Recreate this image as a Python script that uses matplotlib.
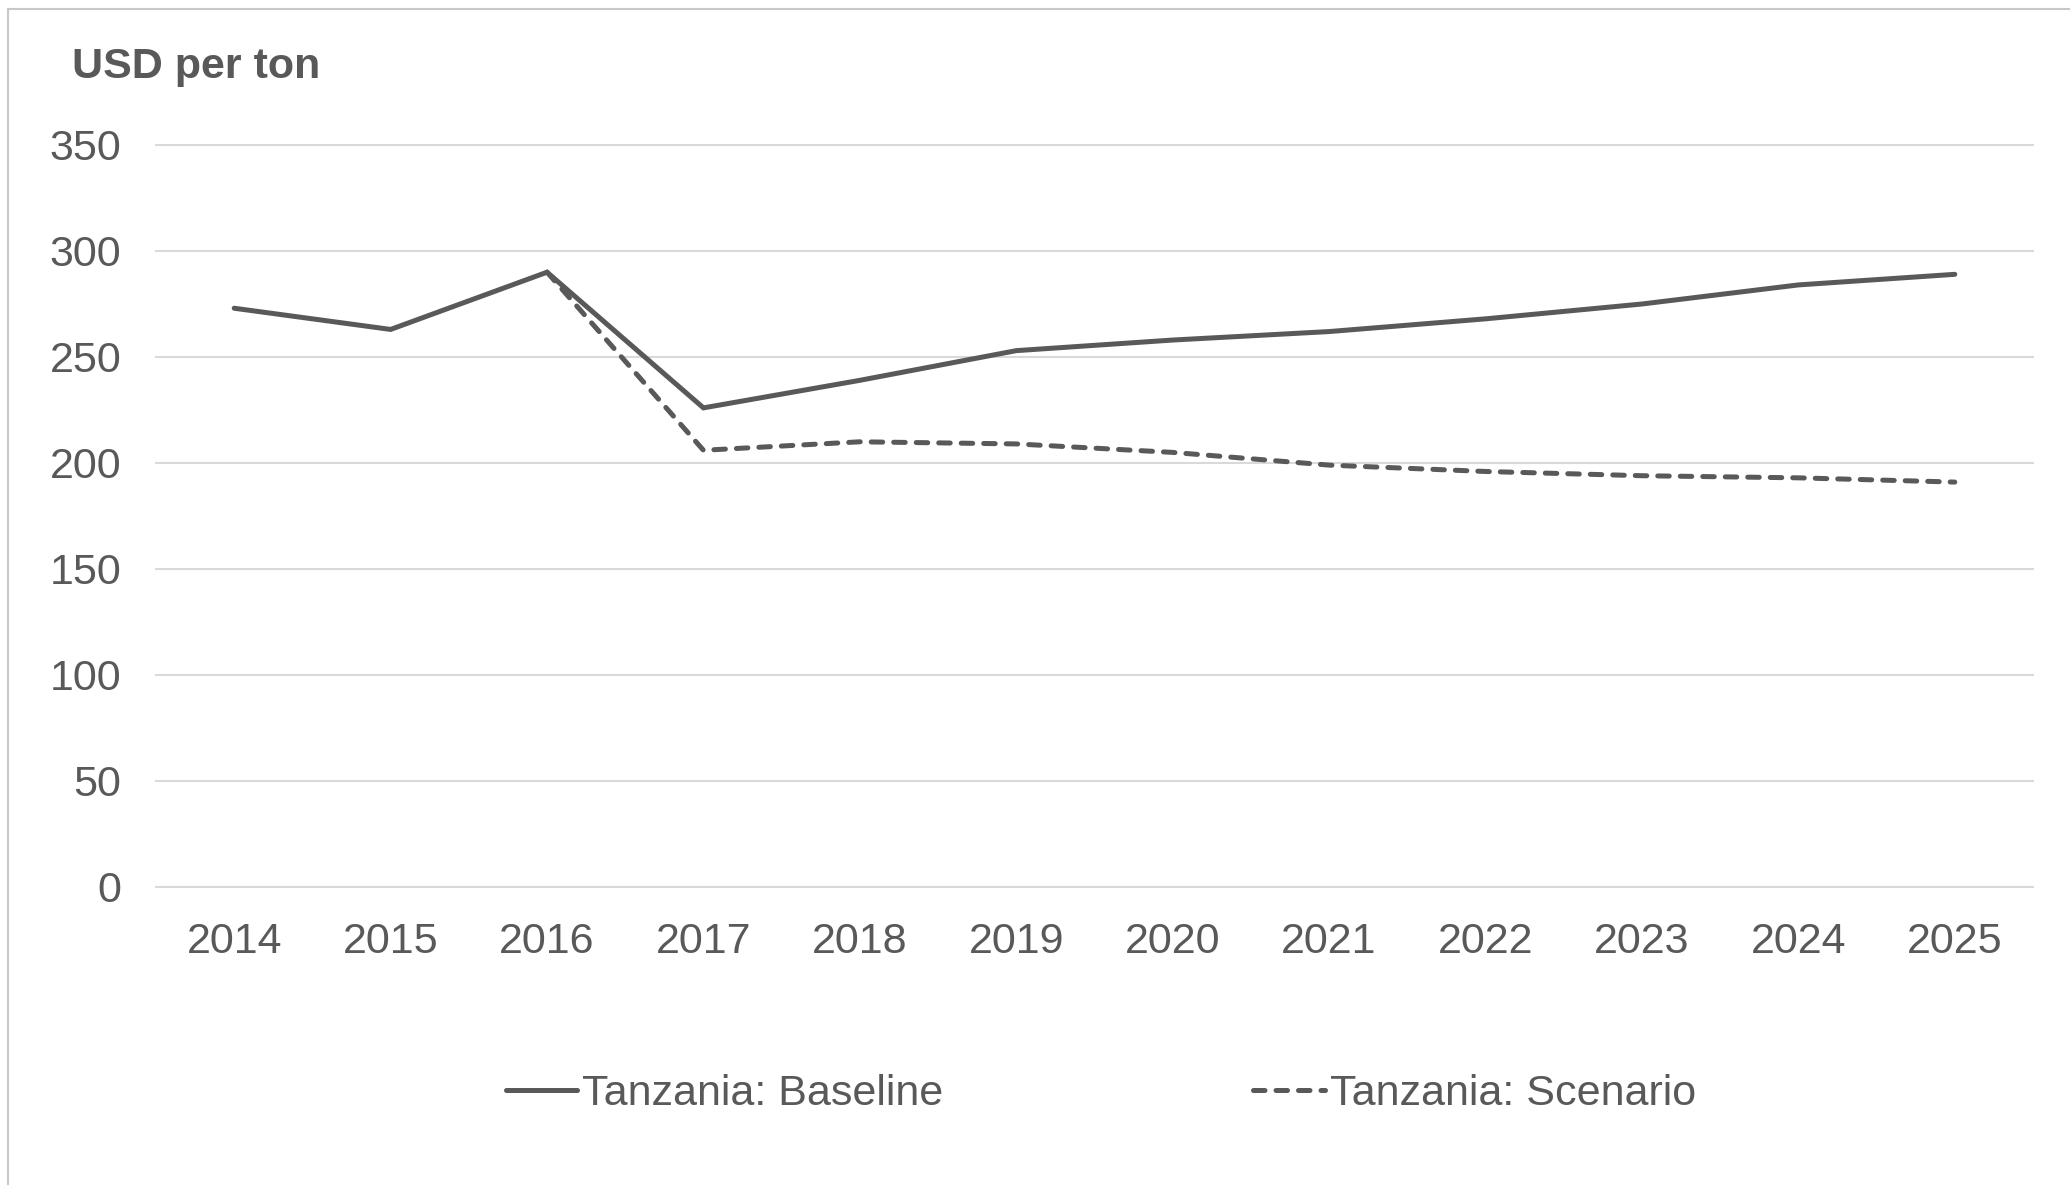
import numpy as np
import matplotlib
matplotlib.use("Agg")
import matplotlib.pyplot as plt
from matplotlib.lines import Line2D

plt.rcParams['font.family'] = ['Liberation Sans', 'DejaVu Sans']

years = ["2014", "2015", "2016", "2017", "2018", "2019",
         "2020", "2021", "2022", "2023", "2024", "2025"]
baseline = [273, 263, 290, 226, 239, 253, 258, 262, 268, 275, 284, 289]
scenario = [np.nan, np.nan, 290, 206, 210, 209, 205, 199, 196, 194, 193, 191]
yticks = [0, 50, 100, 150, 200, 250, 300, 350]

text_col = '#595959'
line_col = '#595959'
grid_col = '#d9d9d9'
fs = 31

fig = plt.figure(figsize=(20.7, 11.85), dpi=100)
ax = fig.add_axes([156 / 2070, 1 - 887 / 1185, (2033 - 156) / 2070, (887 - 145) / 1185])

x = np.arange(len(years))
ax.plot(x, baseline, color=line_col, lw=3.6, solid_capstyle='round',
        solid_joinstyle='miter', label='Tanzania: Baseline')
ax.plot(x, scenario, color=line_col, lw=3.6, dashes=(2.3, 2.2),
        dash_capstyle='round', label='Tanzania: Scenario')

ax.set_xlim(-0.5, len(years) - 0.5)
ax.set_ylim(0, 350)
ax.set_xticks(x)
ax.set_xticklabels(years)
ax.set_yticks(yticks)
ax.tick_params(axis='both', length=0, labelsize=fs, labelcolor=text_col)
ax.tick_params(axis='y', pad=25)
ax.tick_params(axis='x', pad=25)
for s in ax.spines.values():
    s.set_visible(False)
ax.yaxis.grid(True, color=grid_col, lw=1.5)
for gl in ax.get_ygridlines():
    gl.set_clip_on(False)
ax.set_axisbelow(True)

fig.text(72 / 2070, 1 - 67 / 1185, 'USD per ton', fontsize=fs, fontweight='bold',
         color=text_col, ha='left', va='center')

leg = fig.legend(loc='center left', bbox_to_anchor=(506 / 2070, 1 - 1094 / 1185),
                 ncol=2, frameon=False, fontsize=fs, handlelength=1.65,
                 handletextpad=0.12, columnspacing=7.2, borderpad=0, borderaxespad=0)
for t in leg.get_texts():
    t.set_color(text_col)

# chart border (left and top visible)
fig.add_artist(Line2D([8 / 2070, 8 / 2070], [0, 1 - 9 / 1185], color='#c8c8c8', lw=1.5))
fig.add_artist(Line2D([8 / 2070, 1], [1 - 9 / 1185, 1 - 9 / 1185], color='#c8c8c8', lw=1.5))

fig.savefig('out.png', dpi=100)
